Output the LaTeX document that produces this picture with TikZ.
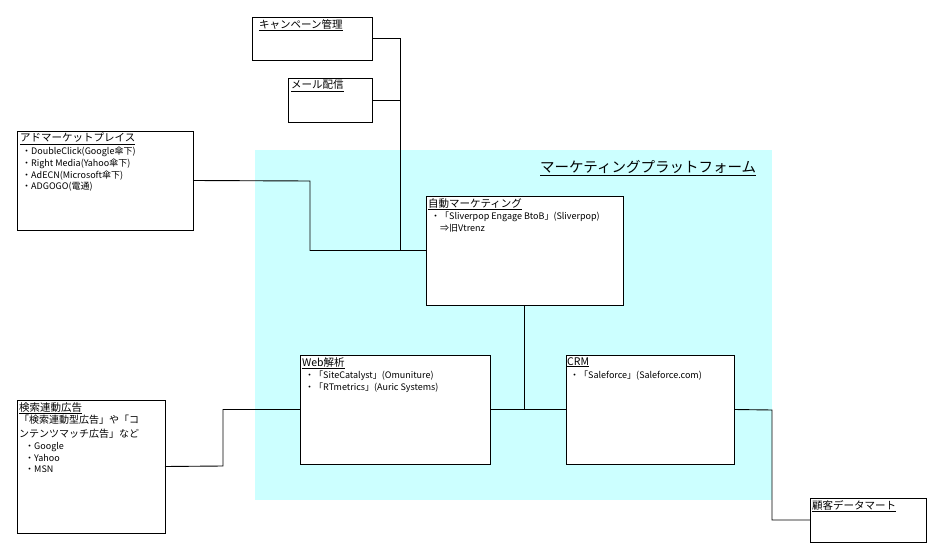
\documentclass[tikz,border=0pt]{standalone}
\usepackage{fontspec}
\setmainfont{Noto Sans CJK JP}
\definecolor{plat}{HTML}{CCFFFF}
\begin{document}
\begin{tikzpicture}[x=1pt,y=-1pt,
  box/.style={draw,line width=0.9pt,fill=white,anchor=north west,inner sep=0pt,outer sep=0pt},
  ttl/.style={anchor=north west,inner sep=0pt,font=\fontsize{10.5}{13}\selectfont},
  itm/.style={anchor=north west,inner sep=0pt,align=left,font=\fontsize{9}{11.7}\selectfont},
  wire/.style={line width=0.9pt}]
\useasboundingbox (0,0) rectangle (938,551);
\fill[plat] (255,150) rectangle (772,500);
\node[anchor=north west,inner sep=0pt,font=\fontsize{14.5}{17}\selectfont] (ptitle) at (540,160) {\underline{マーケティングプラットフォーム}};
% boxes
\node[box,minimum width=120pt,minimum height=43pt] (camp) at (252,17) {};
\node[box,minimum width=84pt,minimum height=44pt] (mail) at (288,78) {};
\node[box,minimum width=176pt,minimum height=99pt] (ad) at (17,131) {};
\node[box,minimum width=197pt,minimum height=109pt] (auto) at (426,196) {};
\node[box,minimum width=190pt,minimum height=109pt] (web) at (300,355) {};
\node[box,minimum width=168pt,minimum height=109pt] (crm) at (566,355) {};
\node[box,minimum width=148pt,minimum height=133pt] (search) at (17,400) {};
\node[box,minimum width=116pt,minimum height=44pt] (dm) at (810,498) {};
% texts
\node[ttl] (campt) at (259,19) {\underline{キャンペーン管理}};
\node[ttl] (mailt) at (291,80) {\underline{メール配信}};
\node[ttl] (adt) at (20,133) {\underline{アドマーケットプレイス}};
\node[itm] (adi) at (22,147) {・DoubleClick(Google傘下)\\・Right Media(Yahoo傘下)\\・AdECN(Microsoft傘下)\\・ADGOGO(電通)};
\node[ttl] (autot) at (428,198) {\underline{自動マーケティング}};
\node[itm] (autoi) at (431,212) {・「Sliverpop Engage BtoB」(Sliverpop)\\\hspace{1em}⇒旧Vtrenz};
\node[ttl] (webt) at (302,357) {\underline{Web解析}};
\node[itm] (webi) at (305,371) {・「SiteCatalyst」(Omuniture)\\・「RTmetrics」(Auric Systems)};
\node[ttl] (crmt) at (567,357) {\underline{CRM}};
\node[itm] (crmi) at (570,371) {・「Saleforce」(Saleforce.com)};
\node[ttl] (searcht) at (19,402) {\underline{検索連動広告}};
\node[anchor=north west,inner sep=0pt,align=left,font=\fontsize{10}{13.5}\selectfont] (searchi) at (19,415) {「検索連動型広告」や「コ\\ンテンツマッチ広告」など};
\node[itm] (searchj) at (25,442) {・Google\\・Yahoo\\・MSN};
\node[ttl] (dmt) at (812,500) {\underline{顧客データマート}};
% connectors
\coordinate (j1) at (400,250);
\coordinate (k1) at (310,181);
\coordinate (k2) at (223,466);
\coordinate (k3) at (772,410);
\draw[wire] (camp.east) -| (j1);
\draw[wire] (mail.east) -- (mail.east -| j1);
\draw[wire] (ad.east) -- (k1) |- (auto.west);
\draw[wire] (search.east) -- (k2) |- (web.west);
\draw[wire] (web.east) -- (crm.west);
\draw[wire] (auto.south) -- (auto.south |- web.east);
\draw[wire] (crm.east) -- (k3) |- (dm.west);
\end{tikzpicture}
\end{document}
